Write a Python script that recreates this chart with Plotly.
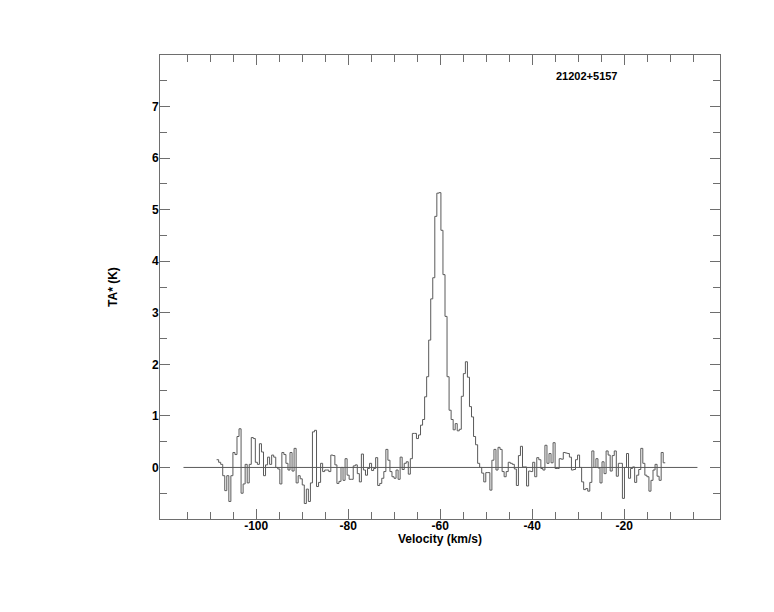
import plotly.graph_objects as go

# Antenna temperature TA* (K) per channel
ta_part1 = [0.15, 0.10, 0.06, -0.16, -0.45, -0.16, -0.66, -0.16, 0.29, 0.25,
            0.60, 0.75, -0.50, -0.32, 0.06, -0.30, 0.06, 0.58, 0.56, 0.10,
            0.06, 0.46, 0.30, -0.16, 0.05, 0.20, 0.06, 0.24, 0.20, 0.00,
            -0.03, -0.32, 0.29, 0.25, 0.08, -0.05, 0.29, -0.07, 0.37, -0.30,
            -0.16, -0.22, -0.34, -0.70, -0.42, -0.66, -0.30, 0.69, 0.72]
ta_part2 = [-0.37, -0.29, 0.08, -0.08, -0.05, -0.05, -0.08, 0.24, 0.23, 0.05,
            -0.31, -0.27, 0.00, -0.25, 0.17, -0.15, -0.23, -0.23, 0.03, 0.05,
            -0.12, -0.28, 0.26, -0.05, -0.15, -0.02, 0.08, -0.06, -0.02, 0.19,
            -0.35, -0.31, -0.21, -0.08, 0.35, 0.14, -0.08, -0.18, -0.21, -0.05,
            -0.23, 0.20, -0.04, 0.08, 0.11, -0.13, 0.17]
ta_peak = [0.66, 0.66, 0.56, 0.63, 0.82, 0.93, 1.37, 1.76, 2.47, 3.27,
           3.68, 4.87, 5.32, 5.33, 4.60, 3.74, 2.93, 1.76, 1.11, 0.93,
           0.73, 0.85, 0.71, 0.74, 1.38, 1.82, 2.05, 1.75, 1.18, 0.98,
           0.60, 0.44, 0.08]
ta_part4 = [0.00, -0.11, -0.28, -0.10, -0.10, -0.44, 0.14, 0.35, -0.05, 0.39,
            0.35, -0.08, -0.18, -0.08, 0.10, 0.08, 0.06, -0.03, -0.35, 0.23,
            0.41, 0.01, 0.01, -0.36, -0.07, -0.08, 0.10, -0.18, 0.19, 0.15,
            -0.02, -0.05, 0.43, 0.08, 0.27, 0.09, 0.48, -0.02, -0.02, 0.17,
            0.16, 0.29, 0.28, 0.27, 0.20, -0.05, -0.04, 0.15, 0.24, 0.00,
            -0.28]
ta_part5 = [-0.43, -0.41, -0.46, -0.29, 0.32, 0.00, 0.17, -0.01, -0.30, 0.11,
            -0.12, 0.32, 0.24, -0.07, 0.23, 0.32, -0.17, 0.08, 0.08, -0.60,
            0.00, 0.27, -0.21, -0.02, 0.01, -0.29, -0.15, -0.04, 0.37, 0.08,
            -0.15, -0.18, -0.46, -0.25, -0.05, 0.06, -0.17, -0.25, 0.29, 0.09]

v_first_edge = -108.6   # km/s, left edge of first channel
v_last_edge = -11.1     # km/s, right edge of last channel
baseline_v = [-115.8, -4.1]
baseline_ta = [0.0, 0.0]

x_range = [-120.9, 0.8]
y_range = [-1.0, 8.0]
x_major = [-100, -80, -60, -40, -20]
x_minor = [-115, -110, -105, -95, -90, -85, -75, -70, -65, -55, -50, -45,
           -35, -30, -25, -15, -10, -5]
y_major = [0, 1, 2, 3, 4, 5, 6, 7]
y_minor = [-0.5, 0.5, 1.5, 2.5, 3.5, 4.5, 5.5, 6.5, 7.5]
source_name = "21202+5157"
x_title = "Velocity (km/s)"
y_title = "TA* (K)"

ta = ta_part1 + ta_part2 + ta_peak + ta_part4 + ta_part5
n = len(ta)
dv = (v_last_edge - v_first_edge) / n
edges = [v_first_edge + i * dv for i in range(n + 1)]
ys = ta + [ta[-1]]

line_col = "#5a5a5a"
axis_col = "#6e6e6e"
font_fam = "Liberation Sans, Arial, Helvetica, sans-serif"
bold_font = dict(family=font_fam, size=12, color="black", weight="bold")

fig = go.Figure()
fig.add_trace(go.Scatter(x=baseline_v, y=baseline_ta, mode="lines",
                         line=dict(color=line_col, width=1), hoverinfo="skip",
                         showlegend=False))
fig.add_trace(go.Scatter(x=edges, y=ys, mode="lines", line_shape="hv",
                         line=dict(color=line_col, width=1), showlegend=False))

fig.add_annotation(x=-28.2, y=7.6, xref="x", yref="y", text=source_name,
                   showarrow=False,
                   font=dict(family=font_fam, size=11, color="black", weight="bold"))
fig.add_annotation(x=0.5, y=-0.044, xref="paper", yref="paper", text=x_title,
                   showarrow=False, xanchor="center", yanchor="middle",
                   font=bold_font)
fig.add_annotation(x=-0.084, y=0.5, xref="paper", yref="paper", text=y_title,
                   showarrow=False, xanchor="center", yanchor="middle",
                   textangle=-90, font=bold_font)

axis_common = dict(showgrid=False, zeroline=False, showline=True,
                   linecolor=axis_col, linewidth=1, mirror="allticks",
                   ticks="inside", tickcolor=axis_col, ticklen=10, tickwidth=1,
                   tickfont=bold_font)

fig.update_xaxes(range=x_range, tickmode="array", tickvals=x_major,
                 ticktext=[str(v) for v in x_major], ticklabelstandoff=-4,
                 minor=dict(tickmode="array", tickvals=x_minor, ticks="inside",
                            ticklen=7, tickcolor=axis_col, tickwidth=1),
                 **axis_common)
fig.update_yaxes(range=y_range, tickmode="array", tickvals=y_major,
                 ticktext=[str(v) for v in y_major], ticklabelstandoff=-2,
                 minor=dict(tickmode="array", tickvals=y_minor, ticks="inside",
                            ticklen=7, tickcolor=axis_col, tickwidth=1),
                 **axis_common)

fig.update_layout(width=766, height=604,
                  margin=dict(l=152, r=54, t=47, b=93),
                  paper_bgcolor="white", plot_bgcolor="white")

fig.write_html("out.html")
